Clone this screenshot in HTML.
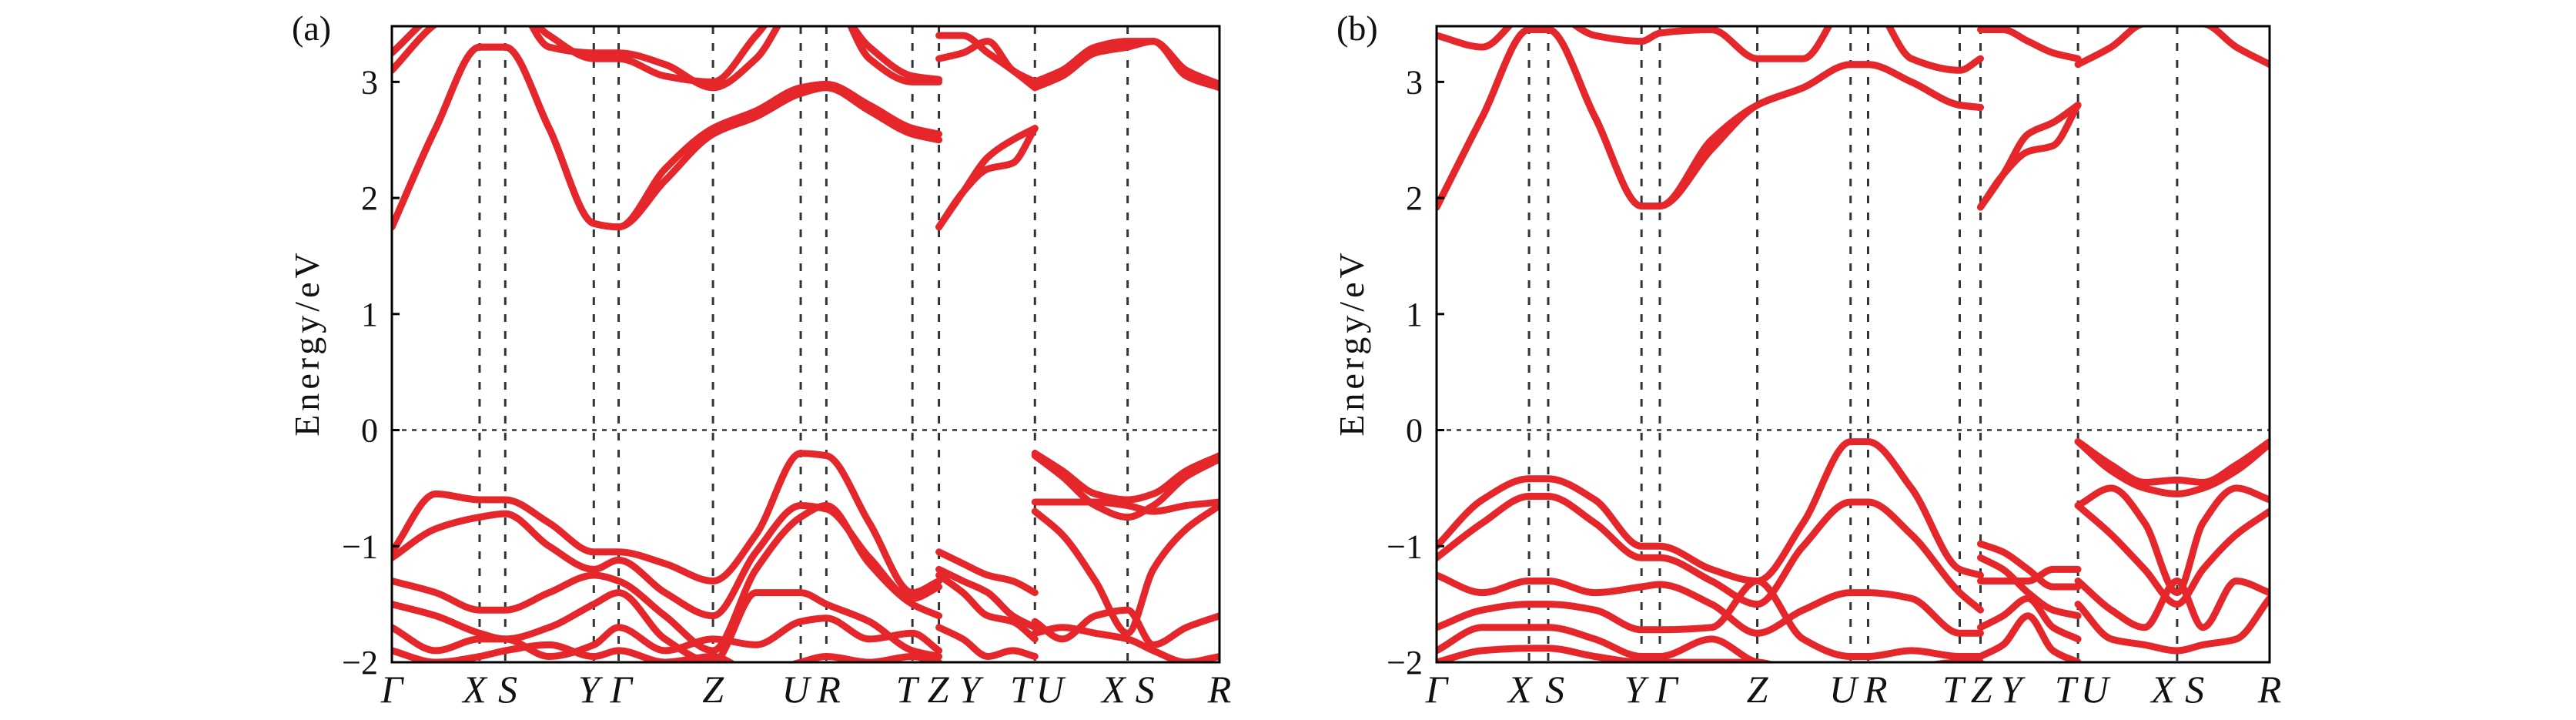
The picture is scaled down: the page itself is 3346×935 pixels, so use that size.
<!DOCTYPE html>
<html><head><meta charset="utf-8"><style>
html,body{margin:0;padding:0;background:#fff;overflow:hidden;}
svg{display:block;}
text{font-family:"Liberation Serif",serif;fill:#111;}
</style></head><body>
<svg id="fig" width="3346" height="935" viewBox="0 0 3346 935"></svg>
<script>
// ===== Data =====
const yTicks = [-2, -1, 0, 1, 2, 3];
const kLabelsText = ["Γ","X","S","Y","Γ","Z","U","R","T","Z","Y","T","U","X","S","R"];
const aKLines = [0.106,0.137,0.244,0.274,0.388,0.494,0.525,0.629,0.661,0.777,0.889];
const bKLines = [0.111,0.134,0.246,0.268,0.385,0.497,0.518,0.628,0.653,0.770,0.889];
const aKLabelPos = [0,0.1,0.14,0.238,0.277,0.388,0.488,0.528,0.622,0.66,0.698,0.76,0.795,0.872,0.91,1];
const bKLabelPos = [0,0.1,0.142,0.238,0.276,0.385,0.488,0.527,0.62,0.654,0.69,0.755,0.79,0.872,0.91,1];

const aK1 = [0,0.053,0.106,0.137,0.19,0.244,0.274,0.33,0.388,0.44,0.494,0.525,0.577,0.629,0.661];
const aS1C1  = [1.75,2.6,3.3,3.3,2.6,1.78,1.75,2.25,2.6,2.75,2.95,2.98,2.8,2.6,2.55];
const aS1C1b = [1.75,2.6,3.3,3.3,2.6,1.78,1.75,2.15,2.55,2.7,2.9,2.95,2.75,2.55,2.5];
const aS1C2  = [3.1,3.5,3.7,3.7,3.4,3.2,3.2,3.05,3.0,3.4,3.8,3.8,3.2,3.0,3.0];
const aS1C3  = [3.25,3.6,3.8,3.8,3.3,3.25,3.25,3.15,2.95,3.2,3.7,3.7,3.3,3.05,3.02];
const aS1V1 = [-1.05,-0.55,-0.6,-0.6,-0.8,-1.05,-1.05,-1.15,-1.3,-0.9,-0.2,-0.22,-0.8,-1.4,-1.3];
const aS1V2 = [-1.1,-0.85,-0.75,-0.72,-1.0,-1.2,-1.12,-1.4,-1.6,-1.05,-0.65,-0.68,-1.1,-1.45,-1.35];
const aS1V3 = [-1.3,-1.4,-1.55,-1.55,-1.4,-1.25,-1.3,-1.6,-1.9,-1.2,-0.75,-0.65,-1.15,-1.5,-1.6];
const aS1V4 = [-1.5,-1.6,-1.75,-1.8,-1.7,-1.5,-1.4,-1.8,-2.0,-1.4,-1.4,-1.5,-1.65,-1.9,-1.95];
const aS1V5 = [-1.7,-1.9,-1.8,-1.8,-1.95,-1.85,-1.7,-1.9,-1.8,-1.85,-1.65,-1.62,-1.8,-1.75,-1.9];
const aS1V6 = [-1.9,-2.0,-1.95,-1.9,-1.85,-1.95,-1.9,-2.0,-1.95,-2.1,-2.0,-1.95,-2.0,-1.95,-2.0];
const aK2 = [0.661,0.69,0.72,0.75,0.777];
const aS2C1  = [1.75,2.05,2.25,2.3,2.6];
const aS2C1b = [1.75,2.05,2.35,2.5,2.6];
const aS2C2  = [3.2,3.25,3.35,3.1,3.0];
const aS2C3  = [3.4,3.4,3.25,3.1,2.95];
const aS2V1 = [-1.05,-1.15,-1.25,-1.3,-1.4];
const aS2V2 = [-1.2,-1.3,-1.4,-1.6,-1.7];
const aS2V3 = [-1.25,-1.4,-1.6,-1.65,-1.8];
const aS2V4 = [-1.7,-1.8,-1.95,-1.9,-1.95];
const aK3 = [0.777,0.81,0.85,0.889,0.92,0.96,1];
const aS3C1 = [3.0,3.1,3.3,3.35,3.35,3.1,2.98];
const aS3C2 = [2.95,3.05,3.25,3.3,3.35,3.05,2.95];
const aS3V1 = [-0.2,-0.35,-0.55,-0.6,-0.55,-0.35,-0.22];
const aS3V2 = [-0.22,-0.4,-0.65,-0.75,-0.65,-0.4,-0.25];
const aS3V3 = [-0.62,-0.62,-0.62,-0.65,-0.7,-0.65,-0.62];
const aS3V4 = [-0.7,-0.9,-1.3,-1.75,-1.2,-0.85,-0.65];
const aS3V5 = [-1.65,-1.8,-1.6,-1.55,-1.85,-1.7,-1.6];
const aS3V6 = [-1.75,-1.7,-1.75,-1.8,-1.9,-2.0,-1.95];

const bK1 = [0,0.055,0.111,0.134,0.19,0.246,0.268,0.33,0.385,0.44,0.497,0.518,0.57,0.628,0.653];
const bS1C1  = [1.92,2.7,3.45,3.45,2.7,1.93,1.93,2.5,2.8,2.95,3.15,3.15,3.0,2.8,2.78];
const bS1C1b = [1.92,2.7,3.45,3.45,2.7,1.93,1.93,2.42,2.8,2.95,3.15,3.15,3.0,2.8,2.78];
const bS1C2  = [3.4,3.3,3.6,3.6,3.4,3.35,3.42,3.45,3.2,3.2,3.7,3.7,3.2,3.1,3.2];
const bS1V1 = [-1.0,-0.6,-0.42,-0.42,-0.6,-1.0,-1.0,-1.2,-1.3,-0.8,-0.1,-0.1,-0.5,-1.2,-1.25];
const bS1V2 = [-1.1,-0.8,-0.57,-0.57,-0.8,-1.1,-1.1,-1.3,-1.5,-1.0,-0.62,-0.62,-0.9,-1.4,-1.55];
const bS1V3 = [-1.25,-1.4,-1.3,-1.3,-1.4,-1.35,-1.33,-1.5,-1.75,-1.55,-1.4,-1.4,-1.45,-1.75,-1.75];
const bS1V4 = [-1.7,-1.55,-1.5,-1.5,-1.55,-1.72,-1.72,-1.7,-1.3,-1.8,-1.95,-1.95,-1.9,-1.95,-1.95];
const bS1V5 = [-1.9,-1.7,-1.7,-1.7,-1.8,-1.95,-1.95,-1.8,-2.0,-2.05,-2.1,-2.1,-2.05,-2.0,-2.0];
const bS1V6 = [-2.0,-1.9,-1.88,-1.88,-1.95,-2.0,-2.0,-2.0,-2.0,-2.1,-2.1,-2.1,-2.1,-2.0,-2.0];
const bK2 = [0.653,0.68,0.71,0.74,0.77];
const bS2C1  = [1.92,2.2,2.4,2.45,2.8];
const bS2C1b = [1.92,2.2,2.55,2.65,2.8];
const bS2C2  = [3.45,3.45,3.35,3.25,3.2];
const bS2V1 = [-0.98,-1.05,-1.2,-1.35,-1.35];
const bS2V2 = [-1.1,-1.2,-1.4,-1.55,-1.6];
const bS2V3 = [-1.3,-1.3,-1.3,-1.2,-1.2];
const bS2V4 = [-1.7,-1.6,-1.45,-1.7,-1.8];
const bS2V5 = [-1.95,-1.85,-1.6,-1.9,-2.0];
const bK3 = [0.77,0.81,0.85,0.889,0.92,0.96,1];
const bS3C1 = [3.15,3.3,3.5,3.5,3.5,3.3,3.15];
const bS3V1 = [-0.1,-0.3,-0.45,-0.43,-0.45,-0.3,-0.1];
const bS3V2 = [-0.1,-0.35,-0.5,-0.55,-0.5,-0.35,-0.12];
const bS3V3 = [-0.65,-0.5,-0.8,-1.4,-0.8,-0.5,-0.6];
const bS3V4 = [-0.65,-0.9,-1.2,-1.5,-1.2,-0.9,-0.7];
const bS3V5 = [-1.3,-1.55,-1.7,-1.3,-1.7,-1.3,-1.4];
const bS3V6 = [-1.5,-1.8,-1.85,-1.9,-1.85,-1.8,-1.45];

// ===== Drawing =====
const NS = "http://www.w3.org/2000/svg";
const svg = document.getElementById("fig");
const Y_TOP = 34, Y_BOT = 860, E_MIN = -2, E_MAX = 3.48;
function yScale(e){ return Y_BOT - (e - E_MIN) / (E_MAX - E_MIN) * (Y_BOT - Y_TOP); }
function mk(tag, attrs, parent){
  const el = document.createElementNS(NS, tag);
  for (const k in attrs) el.setAttribute(k, attrs[k]);
  parent.appendChild(el);
  return el;
}
// monotone cubic (Fritsch-Carlson) path
function smoothPath(xs, ys){
  const n = xs.length;
  const d = [], m = new Array(n);
  for (let i = 0; i < n-1; i++) d.push((ys[i+1]-ys[i])/(xs[i+1]-xs[i]));
  m[0] = d[0]; m[n-1] = d[n-2];
  for (let i = 1; i < n-1; i++){
    if (d[i-1]*d[i] <= 0) m[i] = 0;
    else { const w1 = 2*(xs[i+1]-xs[i]) + (xs[i]-xs[i-1]), w2 = (xs[i+1]-xs[i]) + 2*(xs[i]-xs[i-1]);
      m[i] = (w1+w2)/(w1/d[i-1] + w2/d[i]); }
  }
  let p = "M" + xs[0].toFixed(1) + "," + ys[0].toFixed(1);
  for (let i = 0; i < n-1; i++){
    const h = xs[i+1]-xs[i];
    p += " C" + (xs[i]+h/3).toFixed(1) + "," + (ys[i]+m[i]*h/3).toFixed(1) + " " +
         (xs[i+1]-h/3).toFixed(1) + "," + (ys[i+1]-m[i+1]*h/3).toFixed(1) + " " +
         xs[i+1].toFixed(1) + "," + ys[i+1].toFixed(1);
  }
  return p;
}
function drawPanel(id, left, right, kLines, kLabelPos, sections, letter){
  const w = right - left;
  const xScale = f => left + f * w;
  const g = mk("g", {}, svg);
  
  
  const clipId = "clip-" + id;
  const cp = mk("clipPath", {id: clipId}, g);
  mk("rect", {x:left, y:Y_TOP, width:w, height:Y_BOT-Y_TOP}, cp);
  kLines.forEach(f => {
    const l = mk("line", {x1:xScale(f), x2:xScale(f), y1:Y_TOP, y2:Y_BOT, stroke:"#333", "stroke-width":3, "stroke-dasharray":"10,12"}, g);
    
    
  });
  const fl = mk("line", {x1:left, x2:right, y1:yScale(0), y2:yScale(0), stroke:"#555", "stroke-width":3, "stroke-dasharray":"6,7"}, g);
  
  
  const bg = mk("g", {"clip-path":"url(#"+clipId+")"}, g);
  sections.forEach(sec => {
    const xs = sec.k.map(xScale);
    sec.bands.forEach(b => {
      const p = mk("path", {d:smoothPath(xs, b.map(yScale)), fill:"none", stroke:"#e5272b", "stroke-width":9, "stroke-linecap":"round", "stroke-linejoin":"round"}, bg);
      
      
    });
  });
  const fr = mk("rect", {x:left, y:Y_TOP, width:w, height:Y_BOT-Y_TOP, fill:"none", stroke:"#000", "stroke-width":3}, g);
  
  
  yTicks.forEach(t => {
    const y = yScale(t);
    const tk = mk("line", {x1:left, x2:left+10, y1:y, y2:y, stroke:"#000", "stroke-width":3}, g);
    
    
    const tx = mk("text", {x:left-18, y:y+15, "text-anchor":"end", "font-size":44}, g);
    tx.textContent = t < 0 ? "\u2212" + Math.abs(t) : String(t);
    
    
  });
  kLabelPos.forEach((f, i) => {
    const tx = mk("text", {x:xScale(f), y:912, "text-anchor":"middle", "font-size":50, "font-style":"italic"}, g);
    tx.textContent = kLabelsText[i];
    
    
  });
  const yt = mk("text", {x:0, y:0, "text-anchor":"middle", "font-size":46, "letter-spacing":"5", transform:"translate(" + (left-95) + "," + 445 + ") rotate(-90)"}, g);
  yt.textContent = "Energy/eV";
  
  
  const pl = mk("text", {x:left-130, y:52, "font-size":46}, g);
  pl.textContent = "(" + letter + ")";
  
  
}
drawPanel("a", 509, 1584, aKLines, aKLabelPos, [
  {k:aK1, bands:[aS1C1,aS1C1b,aS1C2,aS1C3,aS1V1,aS1V2,aS1V3,aS1V4,aS1V5,aS1V6]},
  {k:aK2, bands:[aS2C1,aS2C1b,aS2C2,aS2C3,aS2V1,aS2V2,aS2V3,aS2V4]},
  {k:aK3, bands:[aS3C1,aS3C2,aS3V1,aS3V2,aS3V3,aS3V4,aS3V5,aS3V6]}
], "a");
drawPanel("b", 1866, 2948, bKLines, bKLabelPos, [
  {k:bK1, bands:[bS1C1,bS1C1b,bS1C2,bS1V1,bS1V2,bS1V3,bS1V4,bS1V5,bS1V6]},
  {k:bK2, bands:[bS2C1,bS2C1b,bS2C2,bS2V1,bS2V2,bS2V3,bS2V4,bS2V5]},
  {k:bK3, bands:[bS3C1,bS3V1,bS3V2,bS3V3,bS3V4,bS3V5,bS3V6]}
], "b");
</script>
</body></html>
